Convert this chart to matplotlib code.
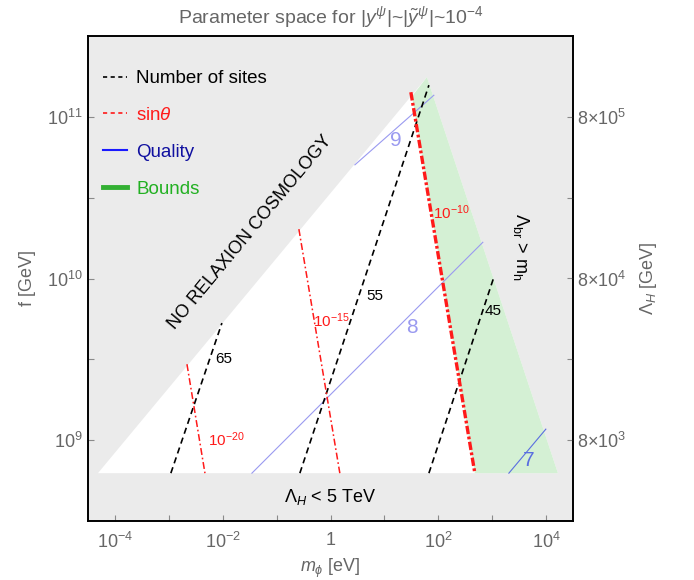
import numpy as np
import matplotlib
matplotlib.use('Agg')
import matplotlib.pyplot as plt
from matplotlib.patches import Polygon
from matplotlib.lines import Line2D

plt.rcParams['font.family'] = ['Liberation Sans', 'DejaVu Sans']
plt.rcParams['mathtext.fontset'] = 'custom'
plt.rcParams['mathtext.rm'] = 'Liberation Sans'
plt.rcParams['mathtext.it'] = 'Liberation Sans:italic'
plt.rcParams['mathtext.bf'] = 'Liberation Sans:bold'
plt.rcParams['lines.scale_dashes'] = False

# ---------------- data ----------------
# allowed region (triangle): bottom-left, apex, bottom-right
region_m = [4.84e-5, 61.5, 16600.0]
region_f = [6.25e8, 1.76e11, 6.25e8]
# green "bounds" region (right of sin(theta)=1e-10 line)
bounds_m = [32.6, 61.5, 16600.0, 477.0]
bounds_f = [1.34e11, 1.76e11, 6.25e8, 6.25e8]

# number of sites (black dashed)
sites_labels = ['65', '55', '45']
sites_m = [[1.09e-3, 9.66e-3], [0.270, 67.0], [67.0, 1076.0]]
sites_f = [[6.25e8, 5.30e9], [6.25e8, 1.57e11], [6.25e8, 1.02e10]]
sites_lab_m = [0.0105, 6.67, 1030.0]
sites_lab_f = [3.16e9, 7.78e9, 6.28e9]

# sin(theta) (red dash-dot)
sin_labels = [r'$10^{-20}$', r'$10^{-15}$', r'$10^{-10}$']
sin_m = [[2.17e-3, 4.68e-3], [0.259, 1.49], [31.0, 477.0]]
sin_f = [[2.95e9, 6.25e8], [2.02e10, 6.25e8], [1.42e11, 6.25e8]]
sin_lw = [1.1, 1.1, 2.4]
sin_lab_m = [0.0115, 1.06, 178.0]
sin_lab_f = [1.0e9, 5.52e9, 2.54e10]

# quality (blue)
qual_labels = ['9', '8', '7']
qual_m = [[2.84, 82.8], [0.0348, 671.0], [2042.0, 9908.0]]
qual_f = [[5.05e10, 1.36e11], [6.25e8, 1.675e10], [6.25e8, 1.17e9]]
qual_colors = ['#9a9af0', '#9a9af0', '#5a6ee0']
qual_lab_m = [16.3, 32.4, 4800.0]
qual_lab_f = [7.18e10, 5.0e9, 7.5e8]

x_ticks = [1e-4, 1e-2, 1, 1e2, 1e4]
x_ticklabels = [r'$10^{-4}$', r'$10^{-2}$', '1', r'$10^{2}$', r'$10^{4}$']
x_minor = [1e-3, 1e-1, 1e1, 1e3]
y_ticks = [1e9, 1e10, 1e11]
y_ticklabels = [r'$10^{9}$', r'$10^{10}$', r'$10^{11}$']
y_minor = [10**9.5, 10**10.5]
lam_factor = 8e-6
r_ticks = [8e3, 8e4, 8e5]
r_ticklabels = [r'$8{\times}10^{3}$', r'$8{\times}10^{4}$', r'$8{\times}10^{5}$']
r_minor = [8e-6 * 10**9.5, 8e-6 * 10**10.5]

xlim = (10**-4.5, 10**4.5)
ylim = (10**8.5, 10**11.5)

# ---------------- figure ----------------
fig = plt.figure(figsize=(6.94, 5.8), dpi=100)
ax = fig.add_axes([88/694, 1-521/580, (573-88)/694, (521-36)/580])
ax.set_facecolor('#ebebeb')
ax.set_xscale('log')
ax.set_yscale('log')
ax.set_xlim(*xlim)
ax.set_ylim(*ylim)

ax.add_patch(Polygon(np.column_stack([region_m, region_f]), closed=True,
                     facecolor='white', edgecolor='none', zorder=1))
ax.add_patch(Polygon(np.column_stack([bounds_m, bounds_f]), closed=True,
                     facecolor='#d4f0d4', edgecolor='none', zorder=1.5))

for m, f, c in zip(qual_m, qual_f, qual_colors):
    ax.plot(m, f, color=c, lw=0.8, zorder=2)
for m, f in zip(sites_m, sites_f):
    ax.plot(m, f, color='black', lw=1.2, linestyle=(0, (4.5, 3)), zorder=3)
for m, f, lw in zip(sin_m, sin_f, sin_lw):
    if lw > 2:
        ls = (0, (6, 1.8, 2, 1.8))
    else:
        ls = (0, (5, 2, 1.2, 2))
    ax.plot(m, f, color='#ff1a1a', lw=lw, linestyle=ls, zorder=4)

for t, m, f in zip(sites_labels, sites_lab_m, sites_lab_f):
    ax.text(m, f, t, fontsize=11, color='black', ha='center', va='center', zorder=5)
for t, m, f in zip(sin_labels, sin_lab_m, sin_lab_f):
    ax.text(m, f, t, fontsize=11, color='#ff1a1a', ha='center', va='center', zorder=5)
for t, m, f, c in zip(qual_labels, qual_lab_m, qual_lab_f, qual_colors):
    ax.text(m, f, t, fontsize=15, color=c, ha='center', va='center', zorder=5)

# region labels
p0 = ax.transData.transform((region_m[0], region_f[0]))
p1 = ax.transData.transform((region_m[1], region_f[1]))
ang = np.degrees(np.arctan2(p1[1]-p0[1], p1[0]-p0[0]))
ax.text(0.032, 1.94e10, 'NO RELAXION COSMOLOGY', fontsize=13, rotation=ang,
        rotation_mode='anchor', ha='center', va='center', color='black', zorder=5)
ax.text(1.0, 4.44e8, r'$\Lambda_H$ < 5 TeV', fontsize=13, ha='center', va='center',
        color='black', zorder=5)
ax.text(3400, 1.56e10, r'$\Lambda_{\mathrm{br}}$ > $\mathrm{m}_{\mathrm{h}}$', fontsize=13,
        rotation=-90, ha='center', va='center', color='black', zorder=5)

# ticks
tick_col = '#8a8a8a'
lab_col = '#666666'
ax.set_xticks(x_ticks)
ax.set_xticklabels(x_ticklabels)
ax.set_xticks(x_minor, minor=True)
ax.set_xticklabels([], minor=True)
ax.set_yticks(y_ticks)
ax.set_yticklabels(y_ticklabels)
ax.set_yticks(y_minor, minor=True)
ax.set_yticklabels([], minor=True)
ax.tick_params(which='both', direction='in', length=4, width=0.8, color=tick_col,
               labelcolor=lab_col, labelsize=13, top=False, right=False)
ax.tick_params(axis='y', which='major', pad=4)
ax.tick_params(axis='x', which='major', pad=8)
for s in ax.spines.values():
    s.set_color('black')
    s.set_linewidth(1.2)

ax2 = ax.twinx()
ax2.set_yscale('log')
ax2.set_ylim(ylim[0]*lam_factor, ylim[1]*lam_factor)
ax2.set_yticks(r_ticks)
ax2.set_yticklabels(r_ticklabels)
ax2.set_yticks(r_minor, minor=True)
ax2.set_yticklabels([], minor=True)
ax2.tick_params(which='both', direction='in', length=4, width=0.8, color=tick_col,
                labelcolor=lab_col, labelsize=13, pad=3)
for s in ax2.spines.values():
    s.set_color('black')
    s.set_linewidth(1.2)

ax.set_xlabel(r'$m_{\phi}$ [eV]', fontsize=13, color=lab_col, labelpad=3)
ax.set_ylabel('f [GeV]', fontsize=13, color=lab_col, labelpad=8)
ax2.set_ylabel(r'$\Lambda_H$ [GeV]', fontsize=13, color=lab_col, labelpad=8, rotation=90)
ax.set_title(r'Parameter space for $|y^{\psi}|$~$|\tilde{y}^{\psi}|$~$10^{-4}$',
             fontsize=14, color=lab_col, pad=9)

handles = [Line2D([], [], color='black', lw=1.2, linestyle=(0, (3, 2.5))),
           Line2D([], [], color='#ff1a1a', lw=1.2, linestyle=(0, (3, 2.5))),
           Line2D([], [], color='#1a1aff', lw=1.5),
           Line2D([], [], color='#33b033', lw=3.5)]
labels = ['Number of sites', r'sin$\theta$', 'Quality', 'Bounds']
leg = ax.legend(handles, labels, loc='upper left', bbox_to_anchor=(0.03, 0.93),
                frameon=False, fontsize=13.5, handlelength=1.3, handletextpad=0.5,
                labelspacing=1.05, borderpad=0, borderaxespad=0)
for t, c in zip(leg.get_texts(), ['black', '#ff1a1a', '#1010a0', '#22b022']):
    t.set_color(c)

fig.savefig('out.png', dpi=100)
